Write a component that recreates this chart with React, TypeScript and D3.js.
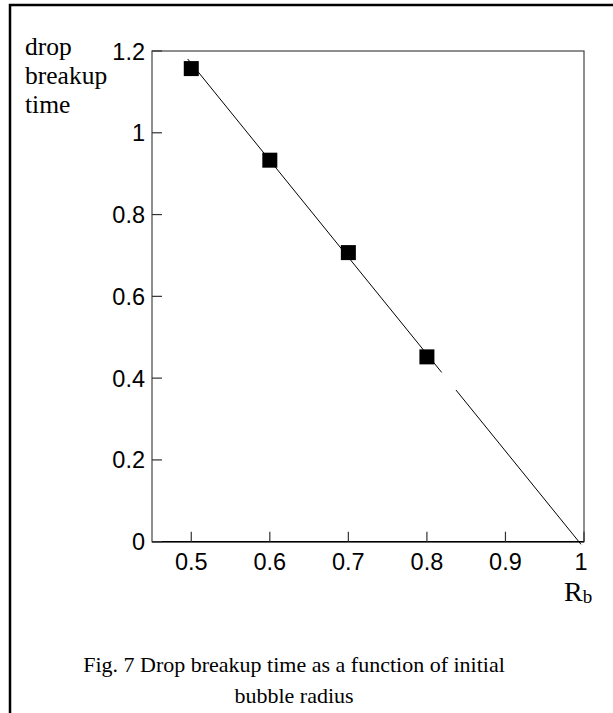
import React from 'react';
import * as d3 from 'd3';

// measured points: initial bubble radius vs drop breakup time
const radius = [0.5, 0.6, 0.7, 0.8];
const breakupTime = [1.157, 0.933, 0.707, 0.452];

// fitted line, drawn in two pieces (there is a small gap after 0.8)
const fitPieceA: [number, number][] = [[0.4954, 1.1805], [0.8188, 0.414]];
const fitPieceB: [number, number][] = [[0.837, 0.3709], [0.9962, -0.0064]];

const xTicks = [0.5, 0.6, 0.7, 0.8, 0.9, 1];
const yTicks = [0, 0.2, 0.4, 0.6, 0.8, 1, 1.2];
const yLabelLines = ['drop', 'breakup', 'time'];
const captionLines = ['Fig. 7 Drop breakup time as a function of initial', 'bubble radius'];

const W = 613;
const H = 713;
const plot = {left: 152, right: 584, top: 51, bottom: 541.7};

export default function App()
{
    const x = d3.scaleLinear().domain([0.45, 1.0]).range([plot.left, plot.right]);
    const y = d3.scaleLinear().domain([0, 1.2]).range([plot.bottom, plot.top]);

    const line = d3.line<[number, number]>()
        .x(d => x(d[0]))
        .y(d => y(d[1]));

    const sans = '"Liberation Sans", Arial, sans-serif';
    const serif = '"Liberation Serif", "Times New Roman", serif';
    const sq = 15;

    return (
        <svg width={W} height={H} style={{position: 'absolute', left: 0, top: 0, background: '#fff'}}>
            {/* outer figure frame, cut off at right and bottom */}
            <rect x={10} y={5} width={800} height={900} fill="none" stroke="#000" strokeWidth={2.5}/>

            {/* plot box */}
            <rect x={plot.left} y={plot.top} width={plot.right - plot.left} height={plot.bottom - plot.top}
                  fill="none" stroke="#444" strokeWidth={1.2}/>
            <line x1={plot.left} x2={plot.right} y1={plot.bottom} y2={plot.bottom} stroke="#000" strokeWidth={1.5}/>

            {yTicks.map((t, i) =>
                <g key={'y' + i}>
                    <line x1={plot.left} x2={plot.left + 10} y1={y(t)} y2={y(t)} stroke="#333" strokeWidth={1.2}/>
                    <text x={plot.left - 7} y={y(t) + 8.5} textAnchor="end" fontFamily={sans} fontSize={23.5}>
                        {d3.format('~g')(t)}
                    </text>
                </g>
            )}

            {xTicks.map((t, i) =>
                <g key={'x' + i}>
                    <line x1={x(t)} x2={x(t)} y1={plot.bottom} y2={plot.bottom - 10} stroke="#333" strokeWidth={1.2}/>
                    <text x={x(t) - (t === 1 ? 3 : 0)} y={570} textAnchor="middle" fontFamily={sans} fontSize={23.5}>
                        {d3.format('~g')(t)}
                    </text>
                </g>
            )}

            <path d={line(fitPieceA) || ''} fill="none" stroke="#000" strokeWidth={1}/>
            <path d={line(fitPieceB) || ''} fill="none" stroke="#000" strokeWidth={1}/>

            {radius.map((r, i) =>
                <rect key={i} x={x(r) - sq / 2} y={y(breakupTime[i]) - sq / 2} width={sq} height={sq} fill="#000"/>
            )}

            {yLabelLines.map((s, i) =>
                <text key={s} x={25} y={55 + i * 29} fontFamily={serif} fontSize={25.5}>{s}</text>
            )}

            <text x={564} y={601} fontFamily={serif} fontSize={28}>
                R<tspan fontSize={19} dy={2}>b</tspan>
            </text>

            {captionLines.map((s, i) =>
                <text key={i} x={294} y={672 + i * 31} textAnchor="middle" fontFamily={serif} fontSize={22}>{s}</text>
            )}
        </svg>
    );
}
